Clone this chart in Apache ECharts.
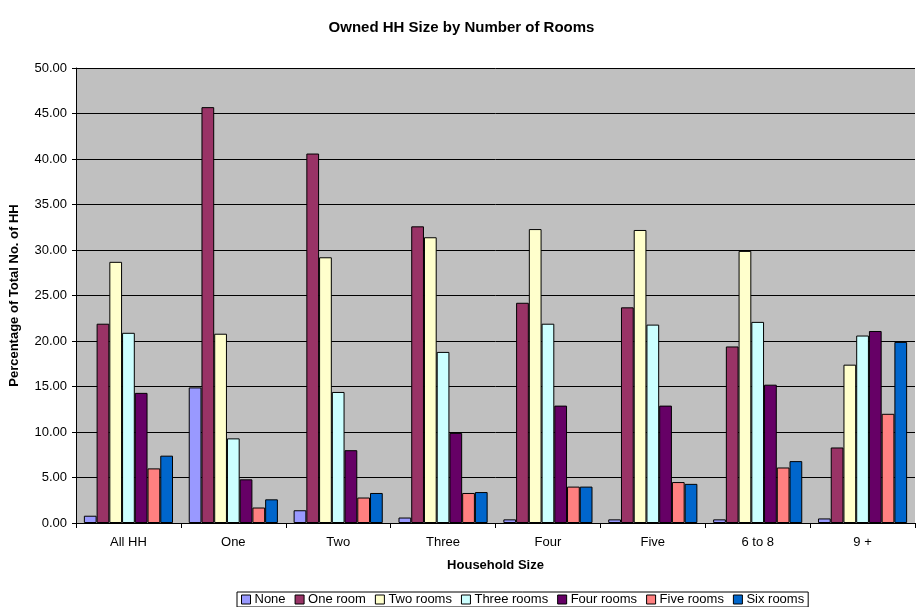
<!DOCTYPE html>
<html>
<head>
<meta charset="utf-8">
<script src="https://cdn.jsdelivr.net/npm/echarts@6/dist/echarts.min.js"></script>
<style>
  html, body { margin: 0; padding: 0; background: #fff; }
  #chart { width: 923px; height: 607px; }
</style>
</head>
<body>
<div id="chart"></div>
<script>
const categories = ['All HH', 'One', 'Two', 'Three', 'Four', 'Five', '6 to 8', '9 +']

const none = [0.8, 14.9, 1.4, 0.6, 0.4, 0.4, 0.4, 0.5]
const oneRoom = [21.9, 45.7, 40.6, 32.6, 24.2, 23.7, 19.4, 8.3]
const twoRooms = [28.7, 20.8, 29.2, 31.4, 32.3, 32.2, 29.9, 17.4]
const threeRooms = [20.9, 9.3, 14.4, 18.8, 21.9, 21.8, 22.1, 20.6]
const fourRooms = [14.3, 4.8, 8.0, 9.9, 12.9, 12.9, 15.2, 21.1]
const fiveRooms = [6.0, 1.7, 2.8, 3.3, 4.0, 4.5, 6.1, 12.0]
const sixRooms = [7.4, 2.6, 3.3, 3.4, 4.0, 4.3, 6.8, 19.9]

const seriesDefs = [
  ['None', none, '#9999FF'],
  ['One room', oneRoom, '#993366'],
  ['Two rooms', twoRooms, '#FFFFCC'],
  ['Three rooms', threeRooms, '#CCFFFF'],
  ['Four rooms', fourRooms, '#660066'],
  ['Five rooms', fiveRooms, '#FF8080'],
  ['Six rooms', sixRooms, '#0066CC']
]

const font = 'Liberation Sans, Arial, sans-serif'

const chart = echarts.init(document.getElementById('chart'))
chart.setOption({
  animation: false,
  textStyle: { fontFamily: font },
  title: {
    text: 'Owned HH Size by Number of Rooms',
    left: 'center',
    top: 15,
    textStyle: { fontSize: 15, fontWeight: 'bold', color: '#000', fontFamily: font }
  },
  legend: {
    bottom: 0,
    left: 237,
    itemWidth: 9,
    itemHeight: 9,
    itemGap: 9,
    padding: [1, 4, 1, 4],
    borderColor: '#000',
    borderWidth: 1,
    icon: 'rect',
    textStyle: { fontSize: 13, color: '#000', fontFamily: font, padding: [0, 0, 0, -1] },
    data: seriesDefs.map(d => ({ name: d[0], itemStyle: { borderColor: '#000', borderWidth: 1 } }))
  },
  grid: {
    left: 76,
    right: 8,
    top: 68,
    bottom: 84,
    show: true,
    backgroundColor: '#C0C0C0',
    borderWidth: 0
  },
  xAxis: {
    type: 'category',
    data: categories,
    name: 'Household Size',
    nameLocation: 'middle',
    nameGap: 36,
    nameTextStyle: { fontSize: 13, fontWeight: 'bold', color: '#000' },
    axisLine: { lineStyle: { color: '#000', width: 1 } },
    axisTick: { show: true, length: 5, lineStyle: { color: '#000' } },
    axisLabel: { fontSize: 13, color: '#000', margin: 13 }
  },
  yAxis: {
    type: 'value',
    min: 0,
    max: 50,
    interval: 5,
    name: 'Percentage of Total No. of HH',
    nameLocation: 'middle',
    nameGap: 55,
    nameTextStyle: { fontSize: 13, fontWeight: 'bold', color: '#000' },
    axisLine: { show: true, lineStyle: { color: '#000', width: 1 } },
    axisTick: { show: true, length: 4, lineStyle: { color: '#000' } },
    axisLabel: { fontSize: 13, color: '#000', margin: 9, formatter: v => v.toFixed(2) },
    splitLine: { show: true, lineStyle: { color: '#000', width: 1 } }
  },
  series: seriesDefs.map(d => ({
    name: d[0],
    type: 'bar',
    data: d[1],
    barGap: '0%',
    barCategoryGap: '15%',
    itemStyle: { color: d[2], borderColor: '#000', borderWidth: 1 }
  }))
})
</script>
</body>
</html>
